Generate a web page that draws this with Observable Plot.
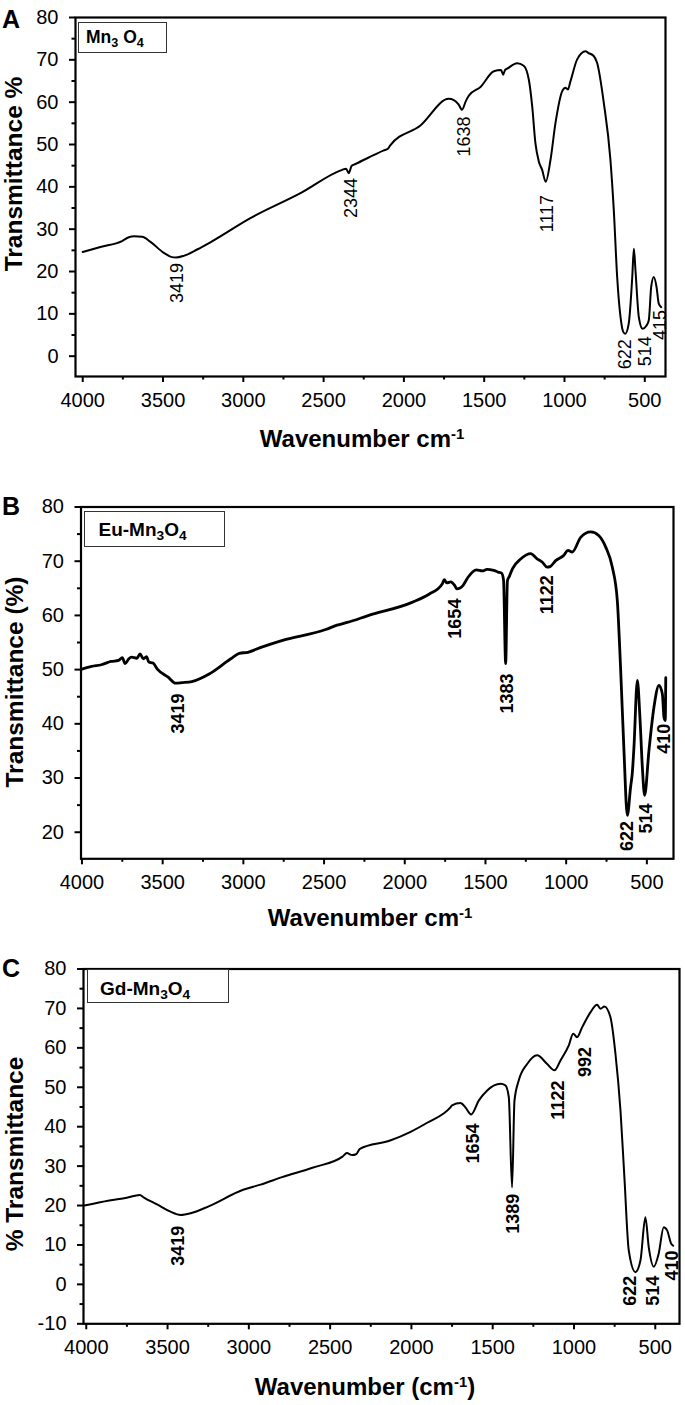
<!DOCTYPE html>
<html><head><meta charset="utf-8">
<script src="https://cdn.jsdelivr.net/npm/d3@7"></script>
<script src="https://cdn.jsdelivr.net/npm/@observablehq/plot@0.6"></script>
<style>
body{margin:0;background:#fff;}
#wrap{position:relative;width:685px;height:1405px;overflow:hidden;font-family:"Liberation Sans",Arial,sans-serif;color:#000;}
.panel{position:absolute;left:0;}
.abs{position:absolute;white-space:nowrap;line-height:1;}
.letter{font-weight:bold;font-size:25px;}
.xtitle{font-weight:bold;font-size:24px;transform:translateX(-50%);}
.ytitle{font-weight:bold;font-size:24.5px;transform:translate(-50%,-50%) rotate(-90deg);}
.legend{position:absolute;border:1.2px solid #333;background:#fff;box-sizing:border-box;}
.legend span{position:absolute;font-weight:bold;line-height:1;white-space:nowrap;}
.legend sub{font-size:0.72em;vertical-align:-0.3em;line-height:0;}
.xtitle sup{font-size:0.62em;vertical-align:0.55em;line-height:0;}
</style></head>
<body><div id="wrap"></div>
<script>
// ---------- data ----------
const xTicks = [4000, 3500, 3000, 2500, 2000, 1500, 1000, 500];
const xMinorTicks = [3750, 3250, 2750, 2250, 1750, 1250, 750];

// Panel A: Mn3O4
const waveA = [4000,3890,3755,3713,3680,3630,3578,3495,3445,3419,3371,3288,3205,2956,2644,2385,2360,2344,2325,2302,2125,2100,2085,1897,1721,1689,1660,1638,1615,1596,1523,1440,1395,1382,1370,1357,1295,1254,1222,1201,1181,1160,1139,1117,1087,1056,1014,994,979,963,921,869,850,818,797,755,714,693,672,651,635,622,600,578,568,558,537,514,490,475,460,444,427,413,398];
const transA = [24.6,25.8,27.2,28.1,28.3,28.2,27.0,24.4,23.4,23.3,23.7,25.2,26.9,32.6,38.5,44.0,44.3,43.2,45.0,45.4,48.6,49.0,49.8,54.5,60.8,60.5,59.5,58.2,60.2,61.5,63.6,67.3,67.6,66.5,67.6,67.9,69.2,68.6,65.3,59.0,50.3,46.0,44.0,41.2,46.4,55.1,62.6,63.4,63.0,64.9,70.1,72.0,71.6,70.9,69.3,59.8,46.4,34.5,18.7,9.2,5.8,5.3,7.7,18.7,25.4,20.3,9.2,6.5,7.2,8.5,16.4,18.7,16.4,12.4,11.6];
const peakTextA = ["3419","2344","1638","1117","622","514","415"];
const peakXA = [3412,2328,1627,1108,620,496,402];
const peakYA = [22.0,42.1,56.6,38.1,4.0,4.7,10.9];
const yTicksA = [0,10,20,30,40,50,60,70,80];
const yMinorA = [5,15,25,35,45,55,65,75];

// Panel B: Eu-Mn3O4
const waveB = [4000,3940,3880,3820,3773,3750,3733,3710,3693,3660,3640,3620,3600,3586,3560,3533,3466,3419,3380,3319,3212,3078,3025,2972,2891,2757,2490,2420,2357,2223,1955,1850,1768,1755,1740,1715,1690,1677,1660,1640,1609,1556,1520,1490,1449,1422,1400,1388,1375,1364,1352,1333,1282,1220,1178,1147,1118,1100,1065,1014,989,962,910,848,797,755,714,683,663,642,621,601,590,580,559,543,528,514,487,456,425,404,394,386,383];
const transB = [50.1,50.6,50.9,51.5,51.7,52.2,51.1,52.0,52.3,52.1,52.9,52.0,52.4,51.4,51.2,50.1,48.6,47.5,47.6,47.8,49.2,52.0,53.0,53.2,54.1,55.4,57.4,58.2,58.7,60.0,62.4,63.9,65.8,66.6,66.0,66.2,65.5,64.9,65.0,65.5,67.0,68.4,68.2,68.5,68.3,68.0,67.8,66.5,51.1,66.4,67.2,68.6,70.4,71.4,70.4,69.8,68.9,69.0,70.1,71.1,72.0,71.7,74.4,75.4,74.7,72.6,68.9,62.7,50.4,35.1,23.1,28.3,31.0,35.7,48.0,41.2,32.0,26.8,35.1,43.1,47.1,45.5,41.2,40.6,48.5];
const peakTextB = ["3419","1654","1383","1122","622","514","410"];
const peakXB = [3402,1686,1366,1118,621,504,395];
const peakYB = [45.6,63.1,49.3,67.4,22.1,25.3,40.0];
const yTicksB = [20,30,40,50,60,70,80];
const yMinorB = [25,35,45,55,65,75];

// Panel C: Gd-Mn3O4
const waveC = [4012,3858,3751,3671,3645,3565,3485,3419,3353,3247,3035,2928,2795,2609,2424,2397,2365,2340,2317,2131,2005,1903,1760,1750,1698,1668,1633,1586,1534,1452,1422,1401,1381,1366,1340,1288,1227,1165,1120,1083,1032,1005,981,950,899,858,837,813,776,745,714,690,663,622,591,561,540,509,479,448,427,402,390];
const transC = [20.0,21.3,22.0,22.7,22.0,20.3,18.5,17.6,18.1,19.8,24.0,25.3,27.2,29.6,32.4,33.3,32.8,33.0,34.4,36.5,38.7,41.0,44.9,45.4,46.0,44.9,43.1,46.6,49.2,50.9,50.5,47.5,24.6,46.6,51.7,55.9,58.1,55.9,54.3,56.8,60.6,63.6,62.7,65.2,69.0,70.9,69.9,70.5,67.8,58.5,44.1,27.2,8.6,3.1,6.1,17.0,9.4,4.5,7.8,14.5,13.7,10.3,9.8];
const peakTextC = ["3419","1654","1389","1122","992","622","514","410"];
const peakXC = [3433,1617,1375,1094,929,654,511,394];
const peakYC = [14.9,40.8,23.0,51.7,60.2,2.2,2.2,8.6];
const yTicksC = [-10,0,10,20,30,40,50,60,70,80];
const yMinorC = [-5,5,15,25,35,45,55,65,75];

// ---------- drawing ----------
const wrap = document.getElementById("wrap");
const FONT = "Liberation Sans, Arial, sans-serif";

function panel(o) {
  const series = o.wave.map((w, i) => ({w, t: o.trans[i]}));
  const peaks = o.peakText.map((s, i) => ({s, x: o.peakX[i], y: o.peakY[i]}));
  const chart = Plot.plot({
    width: 685, height: o.height,
    marginLeft: o.ml, marginRight: o.mr, marginTop: o.mt, marginBottom: o.mb,
    style: {fontFamily: FONT, background: "transparent", color: "#000", overflow: "visible"},
    x: {domain: o.xDomain},
    y: {domain: o.yDomain},
    marks: [
      Plot.axisX({ticks: xMinorTicks, tickSize: 3.5, tickFormat: () => "", strokeWidth: 2, label: null}),
      Plot.axisX({ticks: xTicks, tickSize: 6, tickPadding: 10, fontSize: 20, strokeWidth: 2, label: null, tickFormat: d => String(d)}),
      Plot.axisY({ticks: o.yMinor, tickSize: 3.5, tickFormat: () => "", strokeWidth: 2, label: null}),
      Plot.axisY({ticks: o.yTicks, tickSize: 6, tickPadding: 11, fontSize: 20, strokeWidth: 2, label: null, tickFormat: d => String(d)}),
      Plot.line(series, {x: "w", y: "t", stroke: "#000", strokeWidth: o.sw, curve: "monotone-x", strokeLinejoin: "round"}),
      Plot.text(peaks, {x: "x", y: "y", text: "s", rotate: -90, textAnchor: "end", lineAnchor: "middle",
        fontSize: o.pfs, fontWeight: o.pfw, fill: "#000"}),
      Plot.frame({stroke: "#000", strokeWidth: 2.2})
    ]
  });
  chart.classList.add("panel");
  chart.style.top = o.top + "px";
  wrap.appendChild(chart);
}

panel({wave: waveA, trans: transA, peakText: peakTextA, peakX: peakXA, peakY: peakYA,
  yTicks: yTicksA, yMinor: yMinorA, xDomain: [4045, 371], yDomain: [-4.8, 80],
  top: 0, height: 460, ml: 75, mr: 20, mt: 17, mb: 84, sw: 2, pfs: 18, pfw: "normal"});
panel({wave: waveB, trans: transB, peakText: peakTextB, peakX: peakXB, peakY: peakYB,
  yTicks: yTicksB, yMinor: yMinorB, xDomain: [4006, 335], yDomain: [15.1, 80],
  top: 460, height: 470, ml: 80.5, mr: 12, mt: 46.5, mb: 71.7, sw: 2.8, pfs: 18, pfw: "bold"});
panel({wave: waveC, trans: transC, peakText: peakTextC, peakX: peakXC, peakY: peakYC,
  yTicks: yTicksC, yMinor: yMinorC, xDomain: [4017, 351], yDomain: [-10, 80],
  top: 930, height: 475, ml: 83, mr: 6, mt: 38.5, mb: 81.7, sw: 2, pfs: 18, pfw: "bold"});

// ---------- text decorations ----------
function add(cls, html, css) {
  const d = document.createElement("div");
  d.className = "abs " + cls;
  d.innerHTML = html;
  Object.assign(d.style, css);
  wrap.appendChild(d);
  return d;
}
add("letter", "A", {left: "2px", top: "7px"});
add("letter", "B", {left: "2px", top: "494px"});
add("letter", "C", {left: "2px", top: "956px"});

add("xtitle", "Wavenumber cm<sup>-1</sup>", {left: "362px", top: "427px"});
add("xtitle", "Wavenumber cm<sup>-1</sup>", {left: "370px", top: "906px"});
add("xtitle", "Wavenumber (cm<sup>-1</sup>)", {left: "365px", top: "1375px"});

add("ytitle", "Transmittance %", {left: "14px", top: "174px"});
add("ytitle", "Transmittance (%)", {left: "15px", top: "682px"});
add("ytitle", "% Transmittance", {left: "15px", top: "1154px"});

function legend(html, box, text, fs) {
  const d = document.createElement("div");
  d.className = "legend";
  Object.assign(d.style, {left: box[0] + "px", top: box[1] + "px", width: box[2] + "px", height: box[3] + "px"});
  const s = document.createElement("span");
  s.innerHTML = html;
  Object.assign(s.style, {left: text[0] + "px", top: text[1] + "px", fontSize: fs + "px"});
  d.appendChild(s);
  wrap.appendChild(d);
}
legend("Mn<sub>3</sub> O<sub>4</sub>", [78, 22, 89, 31], [7, 6], 17.5);
legend("Eu-Mn<sub>3</sub>O<sub>4</sub>", [83.5, 511, 141.5, 36], [14, 8], 19);
legend("Gd-Mn<sub>3</sub>O<sub>4</sub>", [87, 969, 142, 34], [12, 9], 19);
</script>
</body></html>
